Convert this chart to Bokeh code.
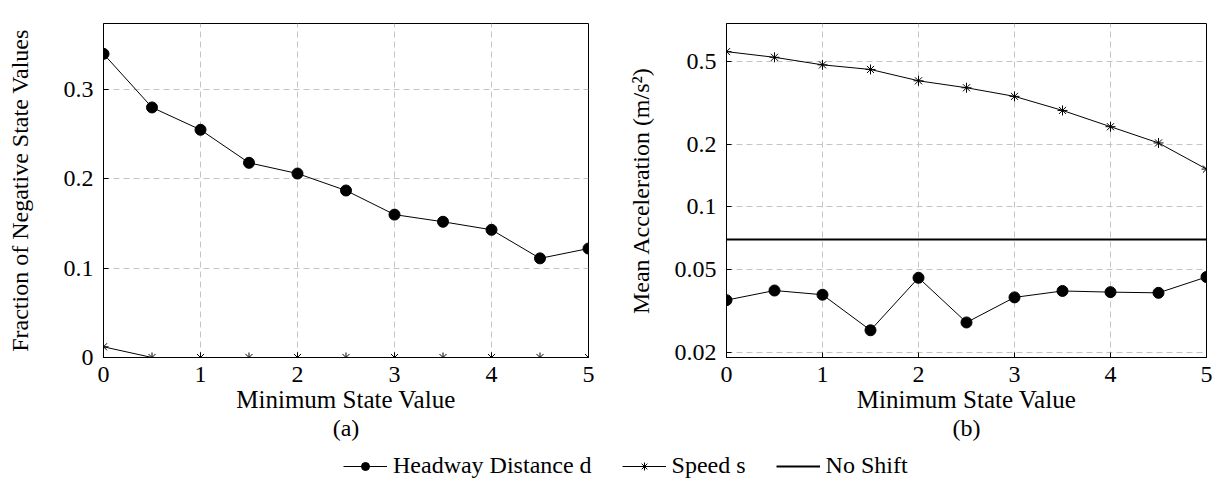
from bokeh.plotting import figure
from bokeh.models import (Range1d, FixedTicker, NumeralTickFormatter,
                          Title, Legend, LegendItem)
from bokeh.layouts import column, row
from bokeh.embed import file_html
from bokeh.resources import INLINE

# ---------------- data ----------------
min_state = [0, 0.5, 1, 1.5, 2, 2.5, 3, 3.5, 4, 4.5, 5]
neg_frac_headway = [0.340, 0.280, 0.255, 0.218, 0.206, 0.187, 0.160, 0.152, 0.143, 0.111, 0.122]
neg_frac_speed = [0.012, 0.0, 0.0, 0.0, 0.0, 0.0, 0.0, 0.0, 0.0, 0.0, 0.0]
acc_headway = [0.0356, 0.0396, 0.0378, 0.0255, 0.0456, 0.0278, 0.0367, 0.0394, 0.0389, 0.0386, 0.0460]
acc_speed = [0.558, 0.524, 0.482, 0.458, 0.404, 0.374, 0.340, 0.291, 0.243, 0.203, 0.152]
acc_no_shift = 0.0696
x_ticks = [0, 1, 2, 3, 4, 5]
y_ticks_a = [0, 0.1, 0.2, 0.3]
y_ticks_b = [0.02, 0.05, 0.1, 0.2, 0.5]

FONT = "Liberation Serif"
GRID = "#c4c4c4"


def style(p, xt, yt, ylabel, ylabel_standoff, caption):
    p.outline_line_color = "black"
    p.outline_line_width = 1
    p.outline_line_alpha = 1
    p.xaxis.ticker = FixedTicker(ticks=xt)
    p.yaxis.ticker = FixedTicker(ticks=yt)
    p.xgrid.ticker = FixedTicker(ticks=xt)
    p.ygrid.ticker = FixedTicker(ticks=yt)
    for g in (p.xgrid, p.ygrid):
        g.grid_line_color = GRID
        g.grid_line_dash = "6 4"
        g.grid_line_width = 1
    for ax in p.axis:
        ax.major_tick_in = 5
        ax.major_tick_out = 0
        ax.minor_tick_line_color = None
        ax.axis_line_color = "black"
        ax.major_tick_line_color = "black"
        ax.major_label_text_font = FONT
        ax.major_label_text_font_size = "24px"
        ax.major_label_text_color = "black"
        ax.axis_label_text_font = FONT
        ax.axis_label_text_font_style = "normal"
        ax.axis_label_text_color = "black"
    p.xaxis.major_label_standoff = 9
    p.yaxis.major_label_standoff = 10
    p.xaxis.axis_label = "Minimum State Value"
    p.xaxis.axis_label_text_font_size = "25px"
    p.xaxis.axis_label_standoff = 1
    p.yaxis.axis_label = ylabel
    p.yaxis.axis_label_text_font_size = "24px"
    p.yaxis.axis_label_standoff = ylabel_standoff
    t = Title(text=caption, align="center", text_font=FONT, text_font_size="24px",
              text_font_style="normal", text_color="black", standoff=-5)
    p.add_layout(t, "below")


# ---------------- panel (a) ----------------
p1 = figure(width=624, height=443, x_range=Range1d(0, 5), y_range=Range1d(0, 0.374),
            toolbar_location=None, output_backend="svg",
            min_border_left=103, min_border_right=36, min_border_top=23, min_border_bottom=86)
p1.line(min_state, neg_frac_headway, line_color="black", line_width=1)
p1.scatter(min_state, neg_frac_headway, marker="circle", size=11,
           fill_color="black", line_color="black")
p1.line(min_state, neg_frac_speed, line_color="black", line_width=1)
p1.scatter(min_state, neg_frac_speed, marker="asterisk", size=10,
           line_color="black", line_width=1)
style(p1, x_ticks, y_ticks_a, "Fraction of Negative State Values", 28, "(a)")
p1.yaxis.formatter = NumeralTickFormatter(format="0.[0]")

# ---------------- panel (b) ----------------
p2 = figure(width=590, height=443, x_range=Range1d(0, 5), y_range=Range1d(0.01886, 0.762),
            y_axis_type="log", toolbar_location=None, output_backend="svg",
            min_border_left=97, min_border_right=8, min_border_top=23, min_border_bottom=86)
p2.line(min_state, [acc_no_shift] * len(min_state), line_color="black", line_width=2)
p2.line(min_state, acc_speed, line_color="black", line_width=1)
p2.scatter(min_state, acc_speed, marker="asterisk", size=10,
           line_color="black", line_width=1)
p2.line(min_state, acc_headway, line_color="black", line_width=1)
p2.scatter(min_state, acc_headway, marker="circle", size=11,
           fill_color="black", line_color="black")
style(p2, x_ticks, y_ticks_b, "Mean Acceleration (m/s\u00b2)", 18, "(b)")
p2.yaxis.formatter = NumeralTickFormatter(format="0.[00]")

# ---------------- legend (shared, below both panels) ----------------
# legend-only renderers: they reuse the series but sit outside this strip's visible range
p3 = figure(width=1214, height=37, x_range=Range1d(-3, -2), y_range=Range1d(0, 1),
            toolbar_location=None, output_backend="svg", min_border=0,
            x_axis_location=None, y_axis_location=None)
p3.grid.visible = False
p3.outline_line_color = None
lh = p3.line(min_state, neg_frac_headway, line_color="black", line_width=1)
mh = p3.scatter(min_state, neg_frac_headway, marker="circle", size=10,
                fill_color="black", line_color="black")
ls = p3.line(min_state, neg_frac_speed, line_color="black", line_width=1)
ms = p3.scatter(min_state, neg_frac_speed, marker="asterisk", size=9,
                line_color="black", line_width=1)
ln = p3.line(min_state, [acc_no_shift] * len(min_state), line_color="black", line_width=2)
legend = Legend(items=[LegendItem(label="Headway Distance d", renderers=[lh, mh]),
                       LegendItem(label="Speed s", renderers=[ls, ms]),
                       LegendItem(label="No Shift", renderers=[ln])],
                orientation="horizontal", location=(343, 1),
                border_line_color=None, background_fill_alpha=0,
                label_text_font=FONT, label_text_font_size="24px",
                label_text_color="black",
                glyph_width=44, glyph_height=20, label_standoff=6, spacing=30,
                padding=0, margin=0)
p3.add_layout(legend)

layout = column(row(p1, p2), p3)
open("out.html", "w").write(file_html(layout, INLINE))
